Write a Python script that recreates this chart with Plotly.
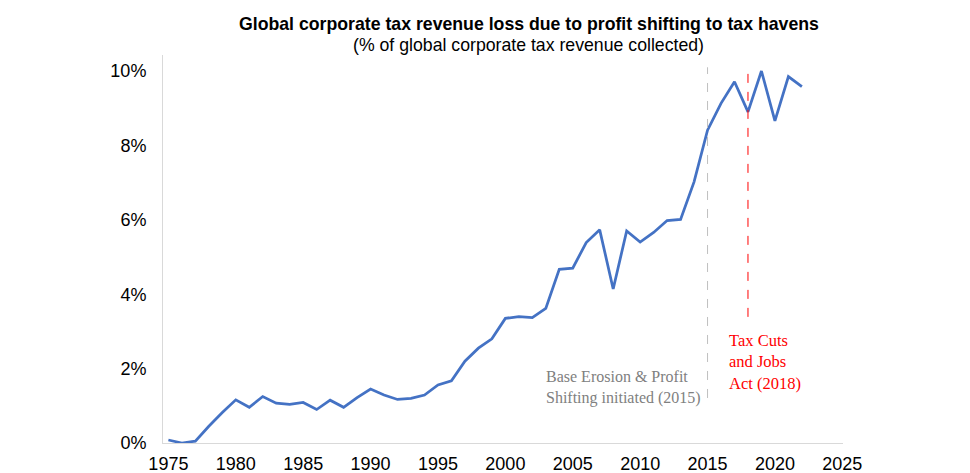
import plotly.graph_objects as go

years = list(range(1975, 2023))
loss_pct = [0.08, 0.0, 0.05, 0.45, 0.82, 1.16, 0.96, 1.25, 1.07, 1.04, 1.09, 0.9, 1.15, 0.96,
            1.22, 1.45, 1.29, 1.17, 1.2, 1.29, 1.56, 1.67, 2.2, 2.55, 2.8, 3.35, 3.4, 3.37,
            3.62, 4.67, 4.7, 5.39, 5.73, 4.14, 5.7, 5.4, 5.66, 5.98, 6.01, 7.02, 8.41, 9.13,
            9.71, 8.9, 10.0, 8.66, 9.85, 9.58]

x_ticks = [1975, 1980, 1985, 1990, 1995, 2000, 2005, 2010, 2015, 2020, 2025]
y_ticks = [0, 2, 4, 6, 8, 10]
y_tick_labels = ["0%", "2%", "4%", "6%", "8%", "10%"]

beps_year = 2015
tcja_year = 2018

title = "Global corporate tax revenue loss due to profit shifting to tax havens"
subtitle = "(% of global corporate tax revenue collected)"
beps_text = "Base Erosion & Profit<br>Shifting initiated (2015)"
tcja_text = "Tax Cuts<br>and Jobs<br>Act (2018)"

fig = go.Figure()
fig.add_trace(go.Scatter(x=years, y=loss_pct, mode="lines",
                         line=dict(color="#4472C4", width=2.75), showlegend=False))

fig.add_shape(type="line", xref="x", yref="y", x0=beps_year, x1=beps_year, y0=1.21, y1=10.1,
              line=dict(color="#BFBFBF", width=1, dash="dash"))
fig.add_shape(type="line", xref="x", yref="y", x0=tcja_year, x1=tcja_year, y0=3.39, y1=10.1,
              line=dict(color="#FF0000", width=1, dash="dash"))

fig.add_annotation(x=beps_year, y=1.48, xref="x", yref="y", text=beps_text, showarrow=False,
                   xanchor="right", yanchor="middle", align="left", xshift=-5,
                   font=dict(family="Liberation Serif", size=16, color="#808080"))
fig.add_annotation(x=tcja_year, y=2.17, xref="x", yref="y", text=tcja_text, showarrow=False,
                   xanchor="left", yanchor="middle", align="left", xshift=-21,
                   font=dict(family="Liberation Serif", size=16.5, color="#FF0000"))

fig.add_annotation(x=0.538, y=1.08, xref="paper", yref="paper", text="<b>" + title + "</b>",
                   showarrow=False, xanchor="center", yanchor="middle",
                   font=dict(family="Liberation Sans", size=17.7, color="#000000"))
fig.add_annotation(x=0.538, y=1.026, xref="paper", yref="paper", text=subtitle,
                   showarrow=False, xanchor="center", yanchor="middle",
                   font=dict(family="Liberation Sans", size=17.7, color="#000000"))

fig.update_layout(
    template="none",
    width=962, height=465,
    margin=dict(l=155, r=127, t=47, b=30, pad=0),
    paper_bgcolor="white", plot_bgcolor="white",
    font=dict(family="Liberation Sans", size=18, color="#000000"),
    xaxis=dict(range=[1974.6, 2025.05], tickvals=x_ticks, showgrid=False, zeroline=False,
               showline=True, linecolor="#D9D9D9", linewidth=1, ticks="", automargin=False,
               tickfont=dict(size=18), ticklabelstandoff=4),
    yaxis=dict(range=[0, 10.43], tickvals=y_ticks, ticktext=y_tick_labels, showgrid=False,
               zeroline=False, showline=True, linecolor="#D9D9D9", linewidth=1, ticks="",
               automargin=False, tickfont=dict(size=18), ticklabelstandoff=12),
)

fig.write_html("out.html")
